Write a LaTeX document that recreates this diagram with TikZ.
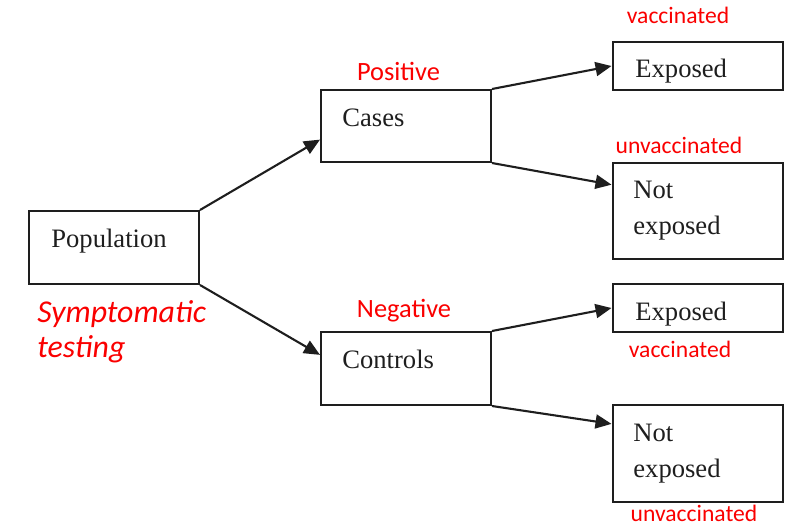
\documentclass[tikz,border=0pt]{standalone}
\usepackage{fontspec}
\setmainfont{Liberation Serif}
\newfontfamily\redfont{Carlito}
\usetikzlibrary{arrows.meta}
\definecolor{ink}{RGB}{30,30,30}
\definecolor{redtxt}{RGB}{250,0,0}
\begin{document}
\begin{tikzpicture}[x=0.5pt,y=-0.5pt,
  box/.style={draw=ink,line width=1pt,rectangle,inner sep=0pt,minimum width=85pt},
  txt/.style={inner sep=0pt,anchor=base west,text=ink,font=\fontsize{13.3}{15}\selectfont},
  rlbl/.style={inner sep=0pt,anchor=base,text=redtxt,font=\redfont\fontsize{11.8}{14}\selectfont},
  rbig/.style={rlbl,font=\redfont\fontsize{13.2}{15}\selectfont},
  conn/.style={draw=ink,line width=1.05pt,-{Triangle[length=8pt,width=7pt]}}]
\useasboundingbox (0,0) rectangle (789,525);
% boxes
\node[box,minimum height=36.5pt] (pop) at (114,247.5) {};
\node[box,minimum height=36pt] (cases) at (406,126) {};
\node[box,minimum height=36.5pt] (controls) at (406,368.5) {};
\node[box,minimum height=24pt] (expA) at (697.5,66) {};
\node[box,minimum height=48pt] (notA) at (697.5,211) {};
\node[box,minimum height=24pt] (expB) at (697.5,308) {};
\node[box,minimum height=48.5pt] (notB) at (697.5,453.5) {};
% box texts
\node[txt] (popt) at (51,247) {Population};
\node[txt] (casest) at (342,126) {Cases};
\node[txt] (controlst) at (342,368) {Controls};
\node[txt] (expAt) at (635,77) {Exposed};
\node[txt] (notAt1) at (633,198) {Not};
\node[txt] (notAt2) at (633,234) {exposed};
\node[txt] (expBt) at (635,320) {Exposed};
\node[txt] (notBt1) at (633,441) {Not};
\node[txt] (notBt2) at (633,477) {exposed};
% red labels
\node[rlbl] (vacA) at (678,23) {vaccinated};
\node[rbig] (pos) at (398.5,80) {Positive};
\node[rlbl] (unvA) at (679,153) {unvaccinated};
\node[rbig] (neg) at (404,317) {Negative};
\node[rlbl] (vacB) at (680,357) {vaccinated};
\node[rlbl] (unvB) at (694,521) {unvaccinated};
\node[inner sep=0pt,anchor=base west,text=redtxt,font=\redfont\itshape\fontsize{15.9}{18}\selectfont] (sym) at (37,322) {Symptomatic};
\node[inner sep=0pt,anchor=base west,text=redtxt,font=\redfont\itshape\fontsize{15.9}{18}\selectfont] (test) at (37,357) {testing};
% connectors
\draw[conn] (pop.north east) -- (cases.189);
\draw[conn] (pop.south east) -- (controls.171);
\draw[conn] (cases.north east) -- (expA.west);
\draw[conn] (cases.south east) -- (notA.163);
\draw[conn] (controls.north east) -- (expB.west);
\draw[conn] (controls.south east) -- (notB.161.6);
\end{tikzpicture}
\end{document}
